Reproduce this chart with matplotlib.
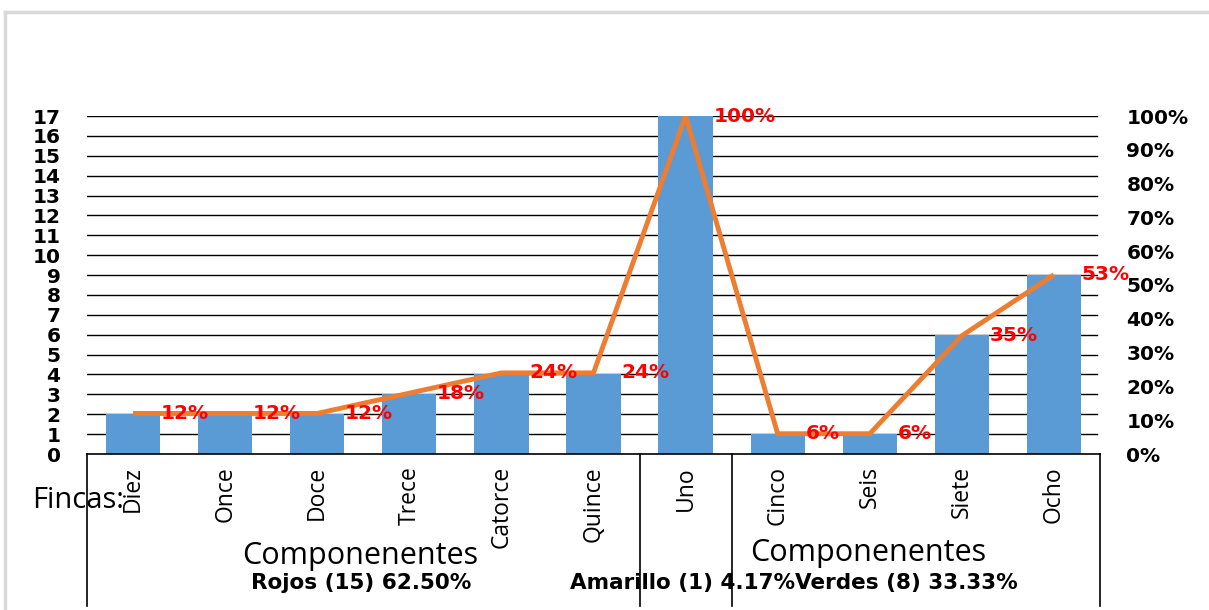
import matplotlib
matplotlib.use("Agg")
import matplotlib.pyplot as plt
import matplotlib.transforms as mtransforms
from matplotlib.lines import Line2D
import numpy as np

# data
fincas = ["Diez", "Once", "Doce", "Trece", "Catorce", "Quince",
          "Uno", "Cinco", "Seis", "Siete", "Ocho"]
componentes = [2, 2, 2, 3, 4, 4, 17, 1, 1, 6, 9]
porcentaje = [12, 12, 12, 18, 24, 24, 100, 6, 6, 35, 53]
pct_ticks = [0, 10, 20, 30, 40, 50, 60, 70, 80, 90, 100]
grupo_cortes = [5.5, 6.5]

W, H = 1209, 610
fig = plt.figure(figsize=(W / 100, H / 100), dpi=100)
fig.patch.set_facecolor("white")

# light grey frame (top and left only visible)
fig.add_artist(Line2D([5 / W, 5 / W], [0, 1 - 12 / H], color="#d9d9d9", lw=2.5))
fig.add_artist(Line2D([5 / W, 1], [1 - 12 / H, 1 - 12 / H], color="#d9d9d9", lw=2.5))

x0, x1, ytop, ybot = 87, 1100, 116, 454
ax = fig.add_axes([x0 / W, 1 - ybot / H, (x1 - x0) / W, (ybot - ytop) / H])
x = np.arange(len(fincas))

# gridlines
for v in range(1, 18):
    ax.plot([-0.5, 10.47], [v, v], color="black", lw=1.0, zorder=1)

ax.bar(x, componentes, width=0.59, color="#5B9BD5", zorder=2)
ax.set_xlim(-0.5, 10.5)
ax.set_ylim(0, 17)
ax.set_yticks(range(0, 18))
ax.tick_params(axis="y", length=0, pad=19, labelsize=14.5)
for t in ax.get_yticklabels():
    t.set_fontweight("bold")
ax.set_xticks([])
for s in ax.spines.values():
    s.set_visible(False)

# category box below axis
trans = mtransforms.blended_transform_factory(ax.transData, ax.transAxes)
ybottom = -(H - 4 - ybot) / (ybot - ytop)
ax.plot([-0.5, 10.5], [0, 0], color="black", lw=1.2, transform=trans, clip_on=False, zorder=3)
for xv in [-0.5] + grupo_cortes + [10.5]:
    ax.plot([xv, xv], [0, ybottom], color="black", lw=1.2, transform=trans, clip_on=False)

for i, name in enumerate(fincas):
    ax.text(i, -12 / (ybot - ytop), name, rotation=90, ha="center", va="top",
            fontsize=16.5, family="Open Sans", transform=trans)

# secondary axis with line
ax2 = ax.twinx()
ax2.plot(x, porcentaje, color="#ED7D31", lw=3.5, zorder=4, solid_capstyle="butt")
ax2.set_ylim(0, 100)
ax2.set_yticks(pct_ticks)
ax2.set_yticklabels([f"{p}%" for p in pct_ticks])
ax2.tick_params(axis="y", length=0, pad=19, labelsize=14.5)
for t in ax2.get_yticklabels():
    t.set_fontweight("bold")
for s in ax2.spines.values():
    s.set_visible(False)

for xi, p in zip(x, porcentaje):
    ax2.annotate(f"{p}%", (xi, p), xytext=(20, 0), textcoords="offset points",
                 ha="left", va="center", color="red", fontweight="bold",
                 fontsize=14.5, zorder=5)

# group texts
fig.text(32 / W, 1 - 500 / H, "Fincas:", fontsize=21, family="Open Sans",
         ha="left", va="center", zorder=0)
fig.text(360 / W, 1 - 556 / H, "Componenentes", fontsize=22, family="Open Sans",
         ha="center", va="center")
fig.text(868 / W, 1 - 553 / H, "Componenentes", fontsize=22, family="Open Sans",
         ha="center", va="center")
fig.text(361 / W, 1 - 583 / H, "Rojos (15) 62.50%", fontsize=15.5, family="DejaVu Sans",
         fontweight="bold", ha="center", va="center")
fig.text(570 / W, 1 - 583 / H, "Amarillo (1) 4.17%Verdes (8) 33.33%", fontsize=15.5,
         family="DejaVu Sans", fontweight="bold", ha="left", va="center")

fig.savefig("out.png", dpi=100, facecolor="white")
